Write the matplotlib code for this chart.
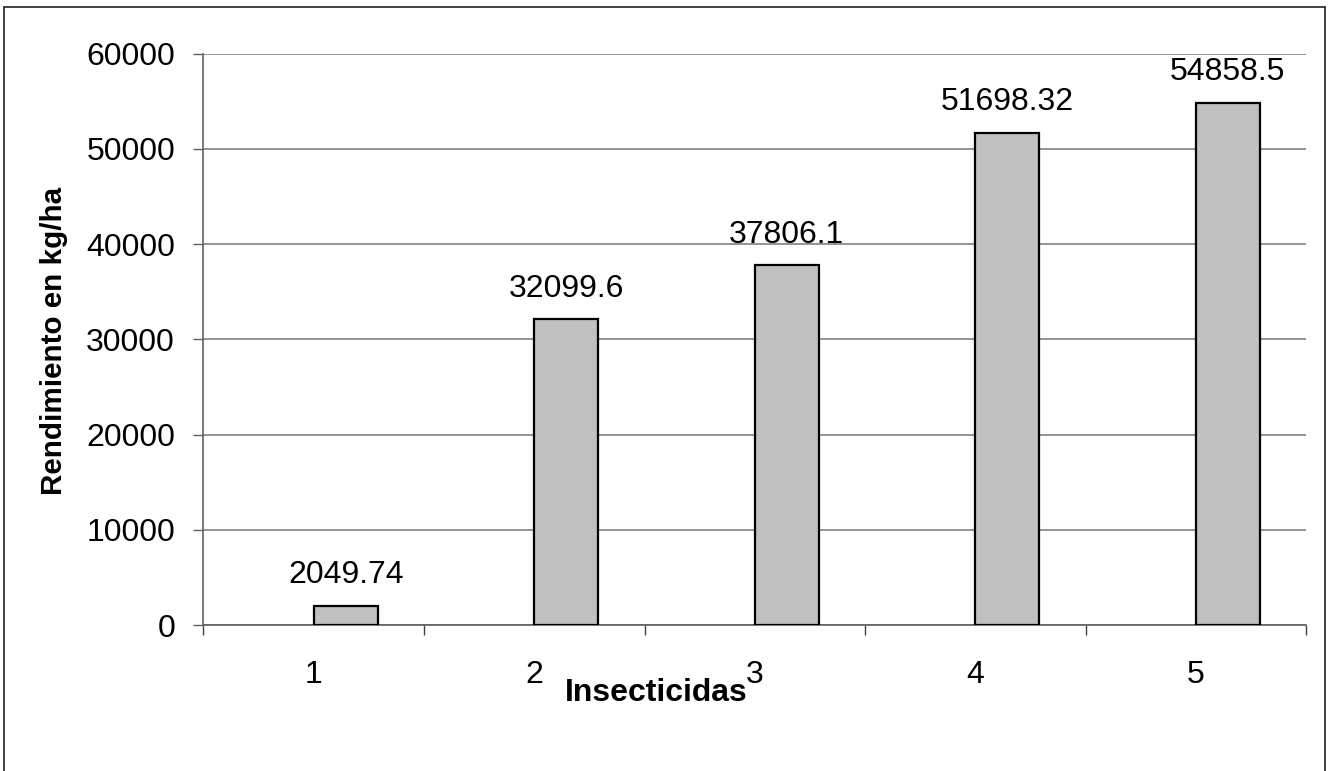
import matplotlib.pyplot as plt
from matplotlib.patches import Rectangle
from matplotlib.ticker import FixedLocator

plt.rcParams['font.family'] = ['Liberation Sans', 'DejaVu Sans']

insecticidas = [1, 2, 3, 4, 5]
rendimiento = [2049.74, 32099.6, 37806.1, 51698.32, 54858.5]
etiquetas = ["2049.74", "32099.6", "37806.1", "51698.32", "54858.5"]

fig = plt.figure(figsize=(13.3, 7.71), dpi=100)
ax = fig.add_axes([0.1530, 0.1890, 0.8290, 0.7416])

# outer chart frame
fig.patches.append(Rectangle((0.003, -0.02), 0.9932, 1.0109, transform=fig.transFigure,
                             fill=False, edgecolor='#202020', linewidth=1.2))

bar_w = 0.29
bars = ax.bar(insecticidas, rendimiento, width=bar_w, align='edge',
              color='#c0c0c0', edgecolor='black', linewidth=1.6, zorder=3)

for b, txt in zip(bars, etiquetas):
    ax.annotate(txt, (b.get_x() + b.get_width() / 2, b.get_height()),
                xytext=(0, 11), textcoords='offset points',
                ha='center', va='bottom', fontsize=23)

ax.set_xlim(0.5, 5.5)
ax.set_ylim(0, 60000)
ax.set_yticks(range(0, 60001, 10000))
ax.yaxis.grid(True, color='#808080', linewidth=1.2)
ax.set_axisbelow(True)

ax.set_xticks(insecticidas)
ax.xaxis.set_minor_locator(FixedLocator([0.5, 1.5, 2.5, 3.5, 4.5, 5.5]))
ax.tick_params(axis='x', which='major', length=0, pad=25, labelsize=23)
ax.tick_params(axis='x', which='minor', length=7.5, width=1.0, color='#404040')
ax.tick_params(axis='y', length=7.5, width=1.0, color='#606060', pad=13, labelsize=23)

for side in ['top', 'right']:
    ax.spines[side].set_visible(False)
for side in ['left', 'bottom']:
    ax.spines[side].set_color('#606060')
    ax.spines[side].set_linewidth(1.2)

ax.set_xlabel('Insecticidas', fontsize=23, fontweight='bold')
ax.xaxis.set_label_coords(0.411, -0.118)
ax.xaxis.label.set_va('center')
ax.set_ylabel('Rendimiento en kg/ha', fontsize=21.3, fontweight='bold')
ax.yaxis.set_label_coords(-0.1356, 0.497)
ax.yaxis.label.set_va('center')

fig.savefig('out.png', dpi=100)
